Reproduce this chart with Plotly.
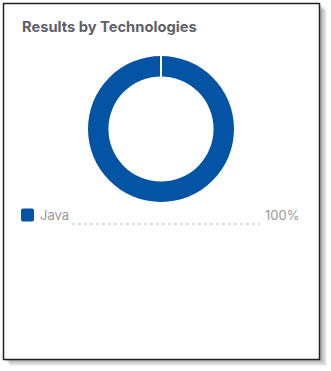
import plotly.graph_objects as go

# ---- data ----
title_text = "Results by Technologies"
technologies = ["Java"]
results = [100]
colors = ["#0354A5"]

W, H = 331, 371

def px(x):
    return x / W

def py(y):
    return 1 - y / H

total = sum(results)
percents = [v / total * 100 for v in results]

fig = go.Figure()
fig.add_trace(go.Pie(
    labels=technologies,
    values=results,
    hole=0.72,
    sort=False,
    direction="clockwise",
    rotation=0,
    marker=dict(colors=colors, line=dict(color="white", width=0)),
    textinfo="none",
    hoverinfo="label+percent",
    domain=dict(x=[px(88), px(234)], y=[py(202), py(56)]),
    showlegend=False,
))

shapes = []
# card shadow
for i, a in enumerate([0.05, 0.05, 0.05, 0.05, 0.06, 0.07]):
    off = 7 - i
    shapes.append(dict(type="rect", xref="paper", yref="paper",
                       x0=px(3 + off), x1=px(320 + off),
                       y0=py(359 + off), y1=py(3 + off),
                       line=dict(width=0), fillcolor=f"rgba(0,0,0,{a})", layer="below"))
# card
shapes.append(dict(type="rect", xref="paper", yref="paper",
                   x0=px(3.5), x1=px(319.5), y0=py(359.5), y1=py(3.5),
                   line=dict(color="#222222", width=1.5), fillcolor="white", layer="below"))
# slice start separator
shapes.append(dict(type="line", xref="paper", yref="paper",
                   x0=px(161), x1=px(161), y0=py(55), y1=py(78),
                   line=dict(color="white", width=2)))

annotations = [dict(text=f"<b>{title_text}</b>", xref="paper", yref="paper",
                    x=px(20), y=py(27), xanchor="left", yanchor="middle",
                    showarrow=False,
                    font=dict(family="Inter", size=14.7, color="#5d606b"))]

row_y = 215
for i, (name, pct, col) in enumerate(zip(technologies, percents, colors)):
    y = row_y + i * 24
    shapes.append(dict(type="path", xref="paper", yref="paper",
                       path=(f"M {px(23)},{py(y-6.5)} L {px(32)},{py(y-6.5)} "
                             f"Q {px(34)},{py(y-6.5)} {px(34)},{py(y-4.5)} L {px(34)},{py(y+4.5)} "
                             f"Q {px(34)},{py(y+6.5)} {px(32)},{py(y+6.5)} L {px(23)},{py(y+6.5)} "
                             f"Q {px(21)},{py(y+6.5)} {px(21)},{py(y+4.5)} L {px(21)},{py(y-4.5)} "
                             f"Q {px(21)},{py(y-6.5)} {px(23)},{py(y-6.5)} Z"),
                       fillcolor=col, line=dict(width=0)))
    shapes.append(dict(type="line", xref="paper", yref="paper",
                       x0=px(72), x1=px(260), y0=py(y + 9), y1=py(y + 9),
                       line=dict(color="#bdbdbd", width=1, dash="dot")))
    annotations.append(dict(text=name, xref="paper", yref="paper",
                            x=px(38), y=py(y), xanchor="left", yanchor="middle",
                            showarrow=False,
                            font=dict(family="Inter", size=13, color="#9a9a9a")))
    annotations.append(dict(text=f"{pct:.0f}%", xref="paper", yref="paper",
                            x=px(301), y=py(y), xanchor="right", yanchor="middle",
                            showarrow=False,
                            font=dict(family="Inter", size=13, color="#9a9a9a")))

fig.update_layout(
    width=W, height=H,
    margin=dict(l=0, r=0, t=0, b=0),
    paper_bgcolor="white",
    plot_bgcolor="white",
    shapes=shapes,
    annotations=annotations,
)

fig.write_html("out.html", config={"displayModeBar": False})
